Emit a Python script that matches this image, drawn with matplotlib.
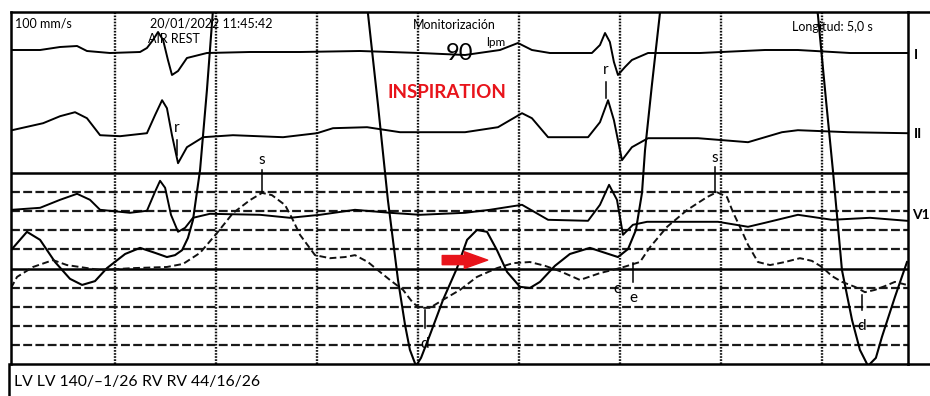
import numpy as np
import matplotlib.pyplot as plt
from matplotlib.lines import Line2D

plt.rcParams['font.family'] = ['Lato', 'DejaVu Sans']

# --- ECG leads: time (s), amplitude (mV) relative to each lead's baseline ---
lead1_t = [-0.01, 0.129, 0.228, 0.312, 0.361, 0.475, 0.624, 0.658, 0.688, 0.713, 0.738, 0.762,
           0.782, 0.812, 0.856, 0.955, 1.168, 1.416, 1.713, 2.01, 2.233, 2.406, 2.495, 2.564,
           2.653, 2.861, 2.901, 2.926, 2.950, 2.970, 2.990, 3.025, 3.059, 3.139, 3.396, 3.718,
           3.881, 4.139, 4.421]
lead1_mv = [0.05, 0.05, 0.125, 0.15, 0.025, -0.025, 0.0, 0.1, 0.3, 0.5, 0.3, -0.2,
            -0.575, -0.475, -0.15, -0.025, 0.0, 0.0, 0.025, -0.025, -0.075, 0.05, 0.225, 0.05,
            -0.025, -0.025, 0.175, 0.475, 0.25, -0.25, -0.575, -0.375, -0.2, -0.025, -0.025, 0.05,
            0.05, -0.025, -0.025]

lead2_t = [-0.01, 0.144, 0.228, 0.302, 0.361, 0.426, 0.525, 0.658, 0.698, 0.733, 0.757, 0.782,
           0.812, 0.856, 0.936, 1.084, 1.332, 1.5, 1.579, 1.748, 1.911, 2.233, 2.396, 2.515,
           2.564, 2.644, 2.842, 2.901, 2.941, 2.970, 3.010, 3.059, 3.139, 3.386, 3.634, 3.802,
           3.881, 4.129, 4.421]
lead2_mv = [0.125, 0.3, 0.475, 0.575, 0.425, 0.0, -0.025, 0.05, 0.5, 0.875, 0.675, 0.0,
            -0.7, -0.3, -0.05, 0.0, -0.05, 0.05, 0.175, 0.2, 0.075, 0.075, 0.2, 0.55,
            0.425, -0.05, -0.05, 0.325, 0.875, 0.375, -0.625, -0.3, -0.075, -0.075, -0.175, 0.075,
            0.125, 0.075, 0.05]

v1_t = [-0.01, 0.129, 0.228, 0.312, 0.376, 0.426, 0.574, 0.658, 0.698, 0.723, 0.748, 0.777,
        0.812, 0.847, 0.886, 0.970, 1.218, 1.366, 1.515, 1.688, 1.861, 2.01, 2.233, 2.356,
        2.515, 2.644, 2.842, 2.901, 2.946, 2.985, 3.015, 3.064, 3.134, 3.297, 3.485, 3.634,
        3.718, 3.881, 4.050, 4.238, 4.421]
v1_mv = [0.075, 0.125, 0.325, 0.475, 0.325, 0.075, 0.0, 0.05, 0.525, 0.8, 0.625, -0.05,
         -0.475, -0.375, -0.125, -0.025, -0.05, -0.125, -0.05, 0.075, 0.0, -0.05, 0.0, 0.075,
         0.2, -0.175, -0.2, 0.2, 0.7, 0.325, -0.55, -0.3, -0.225, -0.225, -0.225, -0.35,
         -0.25, -0.05, -0.175, -0.125, -0.2]

# --- Pressures: time (s), mmHg ---
lv_t = [-0.015, 0.064, 0.129, 0.203, 0.277, 0.337, 0.401, 0.460, 0.550, 0.624, 0.698, 0.757,
        0.797, 0.832, 0.861, 0.886, 0.921, 0.955, 0.985, 1.045, 1.168, 1.366, 1.564, 1.663,
        1.752, 1.802, 1.851, 1.901, 1.936, 1.960, 1.990, 2.015, 2.059, 2.124, 2.193, 2.243,
        2.292, 2.342, 2.391, 2.441, 2.505, 2.554, 2.604, 2.678, 2.752, 2.851, 2.926, 2.990,
        3.040, 3.079, 3.109, 3.124, 3.158, 3.198, 3.272, 3.396, 3.693, 3.891, 3.980, 4.020,
        4.054, 4.099, 4.149, 4.188, 4.228, 4.267, 4.297, 4.361, 4.421]
lv_mmhg = [29.8, 34.6, 32.5, 26.7, 22.3, 20.7, 21.7, 25.1, 28.8, 30.4, 29.1, 28.0,
           28.5, 29.8, 33.0, 37.7, 50.8, 71.7, 92.7, 121.5, 138.5, 140.0, 134.5, 121.5,
           91.9, 67.8, 42.9, 22.0, 10.2, 3.7, -0.5, 1.6, 7.6, 16.8, 25.1, 32.5,
           35.1, 34.6, 29.8, 24.1, 20.2, 19.9, 21.5, 25.7, 28.8, 30.4, 29.1, 28.0,
           30.1, 35.1, 44.8, 56.0, 73.0, 91.9, 126.7, 140.0, 138.5, 124.1, 91.4, 69.1,
           50.8, 24.6, 11.5, 3.7, -0.5, 1.6, 7.1, 17.5, 26.7]

rv_t = [-0.015, 0.015, 0.094, 0.193, 0.262, 0.426, 0.589, 0.757, 0.837, 0.921, 1.005, 1.084,
        1.168, 1.228, 1.277, 1.342, 1.376, 1.416, 1.490, 1.564, 1.639, 1.688, 1.752, 1.812,
        1.861, 1.926, 1.975, 2.010, 2.059, 2.124, 2.208, 2.292, 2.391, 2.470, 2.554, 2.629,
        2.703, 2.802, 2.901, 3.0, 3.099, 3.149, 3.233, 3.332, 3.431, 3.480, 3.530, 3.559,
        3.594, 3.634, 3.683, 3.743, 3.817, 3.891, 3.950, 4.0, 4.050, 4.099, 4.163, 4.213,
        4.262, 4.312, 4.361, 4.421]
rv_mmhg = [19.9, 22.8, 25.4, 27.2, 25.9, 24.6, 25.1, 25.4, 26.2, 29.1, 34.3, 39.5,
           42.9, 44.8, 44.2, 41.6, 38.2, 33.8, 28.5, 27.7, 28.0, 28.5, 26.7, 24.1,
           22.0, 19.4, 16.0, 14.7, 14.7, 16.8, 19.4, 22.8, 25.1, 26.4, 26.7, 25.7,
           24.3, 22.0, 23.8, 25.1, 26.7, 30.6, 35.9, 40.3, 43.7, 45.0, 43.7, 39.8,
           35.9, 31.2, 26.7, 25.9, 26.7, 27.7, 27.0, 25.4, 23.0, 21.5, 20.2, 18.8,
           19.4, 20.4, 21.5, 20.7]

# waveform labels: (text, time, tick top, tick bottom, label y)
wave_labels = [('s', 1.228, 50.8, 45.0, 53.4), ('s', 3.470, 51.6, 45.0, 53.9),
               ('d', 2.035, 14.1, 9.4, 5.2), ('d', 4.198, 18.1, 14.1, 9.9),
               ('e', 3.064, 26.4, 21.5, 17.3)]
r_labels = [('r', 0.807, 5.6, 5.225, 5.9), ('r', 2.931, 7.05, 6.65, 7.35)]

W, H = 930, 396
fig = plt.figure(figsize=(W / 100, H / 100), dpi=100)
ax = fig.add_axes([11 / W, 1 - 364 / H, (908 - 11) / W, (364 - 12) / H])
ax.set_xlim(-0.015, 4.426)
ax.set_ylim(0, 92.15)
ax.set_xticks([])
ax.set_yticks([])
for s in ax.spines.values():
    s.set_linewidth(1.8)

# pressure grid, 5 mmHg steps
for p in range(5, 50, 5):
    if p == 25:
        ax.axhline(p, color='k', lw=1.8)
    else:
        ax.axhline(p, color='#1a1a1a', lw=1.6, ls=(0, (4, 1.5)))
ax.axhline(50, color='k', lw=1.8)
for k in range(1, 9):
    ax.axvline(0.5 * k, color='#111', lw=1.7, ls=(0, (0.7, 0.6)))

ax.plot(lv_t, lv_mmhg, color='k', lw=1.5)
ax.plot(rv_t, rv_mmhg, color='#111', lw=1.4, ls=(0, (3.5, 1.8)))

for txt, t, y0, y1, yl in wave_labels:
    ax.plot([t, t], [y0, y1], color='k', lw=1.1)
    ax.text(t, yl, txt, ha='center', va='center', fontsize=11)
ax.text(2.985, 19.6, 'c', ha='center', va='center', fontsize=11)

ax.annotate('', xy=(2.345, 27.2), xytext=(2.12, 27.2),
            arrowprops=dict(arrowstyle='simple,head_length=1.4,head_width=1.0,tail_width=0.55',
                            color='#e8141b', mutation_scale=12, shrinkA=0, shrinkB=0))

# ECG on its own vertical scale
ax2 = ax.twinx()
ax2.set_ylim(0, 8.8)
ax2.axis('off')
offsets = {'I': 7.8, 'II': 5.72, 'V1': 3.78}
ax2.plot(lead1_t, np.array(lead1_mv) + offsets['I'], color='k', lw=1.4)
ax2.plot(lead2_t, np.array(lead2_mv) + offsets['II'], color='k', lw=1.4)
ax2.plot(v1_t, np.array(v1_mv) + offsets['V1'], color='k', lw=1.4)
for txt, t, y0, y1, yl in r_labels:
    ax2.plot([t, t], [y0, y1], color='k', lw=1.1)
    ax2.text(t, yl, txt, ha='center', va='center', fontsize=11)

# frame pieces outside the trace area
frame_y = 1 - 364 / H
fig.add_artist(Line2D([908 / W, 1], [frame_y, frame_y], color='k', lw=1.8))
fig.add_artist(Line2D([908 / W, 1], [1 - 12 / H, 1 - 12 / H], color='k', lw=1.8))
fig.add_artist(Line2D([9 / W, 9 / W], [0, frame_y], color='k', lw=1.8))


def ftext(x, y, s, **kw):
    fig.text(x / W, 1 - y / H, s, va='center', **kw)


ftext(15, 23, '100 mm/s', fontsize=9)
ftext(150, 23, '20/01/2022 11:45:42', fontsize=9)
ftext(148, 39, 'AIR REST', fontsize=9)
ftext(413, 25, 'Monitorización', fontsize=9)
ftext(446, 54, '90', fontsize=17)
ftext(486, 43, 'lpm', fontsize=8.5)
ftext(792, 27, 'Longitud: 5,0 s', fontsize=9)
ftext(387, 92, 'INSPIRATION', fontsize=13.5, fontweight='bold', color='#e8141b')
ftext(914, 55, 'I', fontsize=10, fontweight='bold')
ftext(914, 134, 'II', fontsize=10, fontweight='bold')
ftext(912, 215, 'V1', fontsize=10, fontweight='bold')
ftext(14, 382, 'LV LV 140/–1/26', fontsize=11.3)
ftext(142, 382, 'RV RV 44/16/26', fontsize=11.3)

fig.savefig('out.png', dpi=100)
